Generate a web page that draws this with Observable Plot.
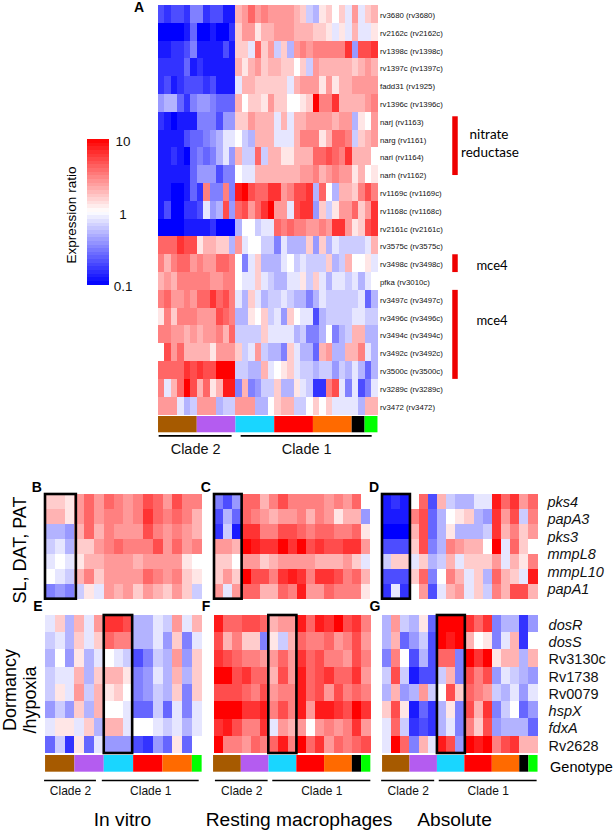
<!DOCTYPE html>
<html>
<head>
<meta charset="utf-8">
<script src="https://cdn.jsdelivr.net/npm/d3@7"></script>
<script src="https://cdn.jsdelivr.net/npm/@observablehq/plot@0.6"></script>
<style>
html,body{margin:0;padding:0;background:#fff}
#page{position:relative;width:616px;height:834px;overflow:hidden;font-family:"Liberation Sans",sans-serif;color:#000}
#page svg{position:absolute;max-width:none}
.t{position:absolute;white-space:nowrap;line-height:1}
</style>
</head>
<body>
<div id="page"></div>
<script>
// Cell values: log10(expression ratio) in tenths (-10 = 0.1, 0 = 1, +10 = 10)
const genesA = ["rv3680 (rv3680)","rv2162c (rv2162c)","rv1398c (rv1398c)","rv1397c (rv1397c)","fadd31 (rv1925)","rv1396c (rv1396c)","narj (rv1163)","narg (rv1161)","nari (rv1164)","narh (rv1162)","rv1169c (rv1169c)","rv1168c (rv1168c)","rv2161c (rv2161c)","rv3575c (rv3575c)","rv3498c (rv3498c)","pfka (rv3010c)","rv3497c (rv3497c)","rv3496c (rv3496c)","rv3494c (rv3494c)","rv3492c (rv3492c)","rv3500c (rv3500c)","rv3289c (rv3289c)","rv3472 (rv3472)"];
const panelA = [
[-7,-8,-7,-7,-8,-5,-5,-8,-7,-7,-9,-9, 3,4,6,4,5,4,4,4,4,3,2,-2,-3,1,2,0,2,-1,4,-1,2,3],
[-10,-10,-10,-10,-9,-6,-10,-10,-9,-10,-10,-8, 2,4,4,1,3,3,4,4,4,3,3,3,2,2,1,-1,1,-1,3,-1,-1,1],
[-9,-9,-8,-8,-7,-5,-9,-9,-9,-9,-7,-9, 2,2,-1,6,2,4,-2,2,-3,4,5,4,5,5,5,5,5,8,-4,7,7,8],
[-8,-8,-8,-8,-6,-9,-8,-9,-9,-9,-9,-9, 3,1,3,4,2,3,3,2,2,0,2,-2,4,3,3,3,3,3,2,3,4,3],
[-8,-7,-9,-8,-7,-7,-7,-8,-7,-9,-9,-9, -1,3,3,2,2,2,2,2,-1,3,4,4,4,1,4,1,3,3,4,4,4,4],
[-4,-3,-3,-6,-8,-5,-4,-4,-5,-6,-6,-6, 3,0,2,2,1,4,2,2,0,0,1,2,10,5,5,8,3,3,3,3,4,5],
[-8,-9,-10,-9,-9,-9,-5,-5,-5,-7,-4,-4, 2,2,4,3,3,3,-1,3,-1,3,3,4,4,4,4,3,4,4,-3,1,0,4],
[-9,-9,-9,-9,-7,-6,-6,-5,-4,-3,-1,-1, 0,-2,-3,3,3,3,-1,-1,-1,3,5,5,5,1,3,6,6,5,-2,2,3,4],
[-9,-9,-8,-9,-10,-6,-5,-6,-5,-3,-1,-4, 3,-2,-2,6,-2,3,3,1,1,3,3,3,6,6,7,6,5,8,3,3,3,0],
[-9,-9,-9,-9,-9,-6,-4,-4,-4,-7,-5,-5, 0,-1,-1,3,3,3,3,3,3,3,4,4,5,3,4,5,4,4,1,3,0,1],
[-9,-9,-10,-10,-9,-6,-8,5,-5,-5,5,-5, 9,10,7,6,6,8,8,4,5,7,7,8,-3,6,0,-3,3,3,2,5,7,5],
[-9,-7,-10,-10,-8,-8,-7,-1,-4,-3,7,-4, 6,7,4,6,8,10,4,4,-1,7,8,8,-4,2,-2,1,4,4,6,2,4,8],
[-10,-10,-10,-10,-9,-9,-9,-9,-8,-10,-10,-10, -3,0,0,-2,-1,-1,6,5,6,5,5,4,4,5,4,8,8,4,1,2,7,8],
[6,6,6,8,7,7,1,3,3,2,2,-3, 4,-1,0,0,-2,-2,-5,-1,-3,-3,-3,2,-4,2,-3,-1,-2,-2,-2,-2,-1,3],
[5,3,5,6,6,4,5,4,4,6,6,5, 0,-5,-1,2,-3,-3,-3,-1,0,-2,-1,-2,-2,-2,2,-3,-2,3,0,0,1,-1],
[3,4,3,5,5,5,5,5,4,4,5,5, 0,-1,-1,2,-1,-2,-3,-3,-1,-1,1,-2,2,-1,-3,-1,-1,-2,-1,-3,-1,0],
[5,6,4,4,5,4,6,6,8,6,7,5, -1,-3,2,-1,-3,-2,-2,-1,-2,-3,-3,-5,-3,-1,-2,-2,-2,-2,-2,-1,-6,-3],
[1,5,2,5,5,5,4,4,4,7,6,5, -3,-3,1,0,2,-2,-1,-4,2,0,-1,-1,-7,-3,-2,-2,-2,-2,-1,-1,-2,-2],
[5,5,4,4,3,4,3,4,4,5,3,6, -2,-2,-2,-2,2,-1,-1,-1,-1,-3,-2,-5,-5,-3,0,-5,-3,-2,3,3,-3,-3],
[0,7,4,6,3,3,3,3,1,4,4,4, 2,-2,-1,4,-2,-3,-3,-5,2,-1,-3,-3,-6,3,4,-3,-3,3,3,5,-1,-3],
[6,6,6,6,8,7,8,7,7,10,10,10, -2,-2,-3,-3,3,-1,0,1,2,-1,-2,-2,-3,-2,-2,-4,-2,-3,-1,-3,-6,-3],
[5,-1,3,6,10,7,3,6,1,3,9,9, -5,3,-5,-4,-2,-2,2,-3,-3,1,-1,-2,-8,-8,5,7,-1,-5,-1,-7,-5,-1],
[4,4,4,-1,-3,-2,4,4,4,-3,-2,-2, 4,4,4,-3,-3,0,2,3,3,-2,-2,0,2,0,2,-1,-1,-1,-1,-3,3,3]
];
const panelB = [
[2,2,1,4,6,4,6,5,4,5,7,6,4,7,5,5],
[3,3,1,4,6,4,5,5,4,5,8,6,5,6,5,3],
[-3,-3,-4,3,6,3,5,4,4,4,7,5,4,5,4,3],
[-2,-1,-3,2,2,4,5,6,5,5,5,7,4,6,4,5],
[-1,0,-1,1,3,3,4,4,4,3,4,4,4,4,1,0],
[0,-1,-2,3,5,2,4,4,4,4,6,5,4,5,2,1],
[-5,-4,-5,-2,1,-1,4,3,4,2,4,3,2,4,2,-2]
];
const panelC = [
[-5,-7,-4,6,6,3,5,7,5,5,5,5,4,5,4,6,0],
[-7,-3,-6,6,5,4,3,4,4,5,3,5,4,1,3,3,-4],
[-8,-2,-9,8,8,5,5,7,7,6,5,6,6,5,5,6,1],
[4,4,3,10,9,8,8,10,8,10,7,8,7,7,8,8,4],
[2,2,0,4,4,2,3,4,4,4,4,3,3,3,4,2,-1],
[2,4,2,10,7,7,5,8,9,8,5,8,8,7,5,6,3],
[4,-1,4,6,6,3,3,6,5,9,4,4,6,5,5,5,1]
];
const panelD = [
[-9,-8,-9,0,6,-7,3,-2,-3,-3,-1,-1,9,6,8,4,6],
[-9,-9,-9,5,7,-6,-3,0,1,2,-3,-4,8,4,7,-2,5],
[-10,-10,-10,3,7,-6,-3,1,-3,-3,-3,-2,8,3,5,2,4],
[-7,-7,-7,2,7,-5,-3,5,4,3,3,0,10,-1,6,2,0],
[-2,2,2,-1,2,-3,-2,3,-1,2,2,2,4,-1,3,1,5],
[-7,-7,-7,2,6,-5,0,5,3,-1,2,-3,6,3,2,-1,9],
[-8,-1,-8,0,4,-7,-1,3,4,-1,2,-2,5,3,7,7,3]
];
const panelE = [
[-1,2,-3,3,-1,4,8,8,7,-3,-3,-1,-2,4,-1,3],
[-2,-1,-3,2,-1,2,6,5,5,-3,-3,-1,-4,2,-5,-1],
[-3,0,-4,1,-3,-1,0,-1,-2,-7,-5,-2,-3,4,-4,2],
[-2,-1,-1,3,-3,2,3,3,1,-5,-4,-1,-3,3,-3,2],
[-2,1,-1,4,-2,3,1,2,0,-5,-4,-2,-3,2,-5,2],
[-4,-2,-4,2,-3,3,0,0,-1,-6,-6,-2,-6,-1,-5,-1],
[-1,1,1,-1,2,-3,3,3,-1,0,0,-1,-2,-1,-3,-1],
[-6,-2,-8,1,-6,-1,-4,-4,-4,-7,-8,-4,-6,1,-6,0]
];
const panelF = [
[9,6,6,7,7,6,3,4,4,9,6,9,8,10,7,8,5],
[7,3,5,2,2,-5,1,-2,3,6,5,5,6,4,5,7,4],
[8,7,6,5,5,4,4,6,4,8,6,7,5,5,4,7,5],
[10,10,7,8,6,6,3,7,4,9,6,7,8,6,6,8,4],
[7,7,7,6,5,7,4,5,5,9,6,7,4,7,5,6,5],
[10,10,10,8,8,9,5,7,5,9,4,9,9,8,7,10,8],
[8,9,7,5,5,8,-1,4,3,4,0,4,5,4,5,8,4],
[10,5,5,4,6,5,6,9,5,10,6,8,4,6,5,6,7]
];
const panelG = [
[-3,4,-2,-3,1,-6,10,10,10,8,6,8,-5,-3,-3,-8,-4],
[-3,3,-6,-4,-2,-7,10,9,10,3,0,1,-5,-1,3,-8,0],
[-5,5,0,-7,-3,-7,6,6,-5,10,8,10,1,3,3,-3,3],
[-2,7,-2,-9,-7,-7,-2,3,-5,7,5,7,-4,-1,-2,-3,-4],
[-3,3,-4,-3,4,-2,0,7,2,6,5,4,-2,-3,-1,-4,-1],
[2,7,1,-9,-6,-8,-3,1,-5,7,3,8,-5,-2,0,-6,-4],
[-1,6,-2,-8,-7,-8,-3,-1,-5,5,2,7,-4,-3,-3,-3,-6],
[-1,10,6,-5,3,-1,9,7,-4,10,9,10,5,7,8,3,3]
];
const genesSL = ["pks4","papA3","pks3","mmpL8","mmpL10","papA1"];
const genesDormancy = ["dosR","dosS","Rv3130c","Rv1738","Rv0079","hspX","fdxA","Rv2628"];
const italicGenes = ["pks4","papA3","pks3","mmpL8","mmpL10","papA1","dosR","dosS","hspX","fdxA"];
const genotypeColors = ["#a65a00","#b45cf0","#19d6ff","#ff0000","#ff6a00","#000000","#00ff00"];
const genotypeCountsA = [6,6,6,6,6,2,2];
const genotypeCounts16 = [3,3,3,3,3,0,1];
const genotypeCounts17 = [3,3,3,3,3,1,1];
const cladeNames = ["Clade 2","Clade 1"];
const colorTicks = [0.1,1,10];
const ramp = d3.range(-10,10,0.5);
const annotA = [{from:6.25,to:9.55},{from:14,to:15},{from:16,to:21}];

const page = document.getElementById("page");
const colorOpts = {type:"linear",domain:[-10,0,10],range:["#0000ff","#ffffff","#ff0000"],interpolate:"rgb",clamp:true};
const sans = "Liberation Sans, sans-serif";

function place(svg,left,top){svg.style.left=left+"px";svg.style.top=top+"px";page.appendChild(svg);return svg;}
function flat(m){return m.flatMap((r,i)=>r.map((v,j)=>({row:i,col:j,v})));}

function heat({data,left,top,w,h,box,labels,dx,labelRows,labelSize,extra=[]}){
  const rows=data.length,cols=data[0].length;
  const marks=[Plot.rect(flat(data),{x1:"col",x2:d=>d.col+1,y1:"row",y2:d=>d.row+1,fill:"v",shapeRendering:"crispEdges"})];
  if(box) marks.push(Plot.rect([box],{x1:"from",x2:"to",y1:0,y2:rows,fill:"none",stroke:"#000",strokeWidth:2.6}));
  if(labels){
    const step=rows/labels.length;
    const pts=labels.map((name,i)=>({name,y:(i+.5)*step}));
    const t=(arr,style)=>Plot.text(arr,{x:cols,y:"y",text:"name",dx,dy:labelRows?1:-1,textAnchor:"start",fontSize:labelSize,fontFamily:sans,fontStyle:style,fill:"#111"});
    marks.push(t(pts.filter(p=>!italicGenes.includes(p.name)),"normal"));
    marks.push(t(pts.filter(p=>italicGenes.includes(p.name)),"italic"));
  }
  marks.push(...extra.map(f=>f(cols)));
  const svg=Plot.plot({width:w,height:h,margin:0,style:{background:"transparent",overflow:"visible"},
    x:{domain:[0,cols],range:[0,w],axis:null},y:{domain:[0,rows],range:[0,h],axis:null},color:colorOpts,marks});
  const g=svg.querySelector('g[aria-label="rect"]');
  if(g) g.style.filter="blur(0.6px)";
  return place(svg,left,top);
}

function strip({counts,left,top,w,h,spans,ruleDy,textDy,fontSize}){
  const cells=[];let c=0;
  counts.forEach((n,i)=>{if(n>0){cells.push({x1:c,x2:c+n,fill:genotypeColors[i]});c+=n;}});
  const spanRows=spans.map((s,i)=>({x1:s[0],x2:s[1],name:cladeNames[i],mid:(s[0]+s[1])/2}));
  const svg=Plot.plot({width:w,height:h,margin:0,style:{background:"transparent",overflow:"visible"},
    x:{domain:[0,c],range:[0,w],axis:null},y:{domain:[0,1],range:[h,0],axis:null},
    marks:[
      Plot.rect(cells,{x1:"x1",x2:"x2",y1:0,y2:1,fill:"fill"}),
      Plot.ruleY(spanRows,{x1:"x1",x2:"x2",y:0,dy:ruleDy,stroke:"#000",strokeWidth:1.7}),
      Plot.text(spanRows,{x:"mid",y:0,dy:textDy,text:"name",fontSize,fontFamily:sans,fill:"#111"})
    ]});
  const g=svg.querySelector('g[aria-label="rect"]');
  if(g) g.style.filter="blur(0.4px)";
  return place(svg,left,top);
}

function label(text,cx,cy,size,opts={}){
  const s=document.createElement("span");
  s.className="t";s.textContent=text;
  s.style.left=cx+"px";s.style.top=cy+"px";s.style.fontSize=size+"px";
  s.style.transform=`translate(-50%,-50%)${opts.rotate?` rotate(${opts.rotate}deg)`:""}`;
  if(opts.bold)s.style.fontWeight="bold";
  if(opts.family)s.style.fontFamily=opts.family;
  page.appendChild(s);
}

// Panel A
heat({data:panelA,left:157.5,top:4.5,w:219.5,h:409.5,labels:genesA,dx:2,labelRows:true,labelSize:7.8,
  extra:[cols=>Plot.ruleX(annotA,{x:cols,y1:"from",y2:"to",dx:77,stroke:"#ee0000",strokeWidth:5.5})]});
strip({counts:genotypeCountsA,left:157.5,top:415.7,w:219.5,h:16.3,spans:[[0.1,11.4],[12.8,33.1]],ruleDy:3,textDy:17,fontSize:14.5});

// Panels B, C, D
const rowB={top:494.3,h:104.7}, rowE={top:615,h:138};
heat({data:panelB,left:45,top:rowB.top,w:156.7,h:rowB.h,box:{from:0,to:3.15}});
heat({data:panelC,left:213.5,top:rowB.top,w:156.5,h:rowB.h,box:{from:0,to:3}});
heat({data:panelD,left:381.7,top:rowB.top,w:155.6,h:rowB.h,box:{from:0,to:3.05},labels:genesSL,dx:9.4,labelSize:14.5});
heat({data:panelE,left:45,top:rowE.top,w:156.7,h:rowE.h,box:{from:6,to:8.9}});
heat({data:panelF,left:213.5,top:rowE.top,w:156.5,h:rowE.h,box:{from:5.9,to:8.95}});
heat({data:panelG,left:381.7,top:rowE.top,w:155.6,h:rowE.h,box:{from:6,to:9.05},labels:genesDormancy,dx:10.5,labelRows:true,labelSize:14.5});

// Genotype strips
strip({counts:genotypeCounts16,left:45,top:755,w:156.7,h:16.7,spans:[[-0.1,5.2],[5.8,15.7]],ruleDy:8.3,textDy:18.5,fontSize:12});
strip({counts:genotypeCounts17,left:212.6,top:755,w:157.4,h:16.7,spans:[[0.2,5.9],[6.4,17]],ruleDy:8.3,textDy:18.5,fontSize:12});
strip({counts:genotypeCounts17,left:381.7,top:755,w:155.6,h:16.7,spans:[[-0.1,5.7],[6.2,16.9]],ruleDy:8.3,textDy:18.5,fontSize:12});

// Colour bar
(function(){
  const w=21.6,h=145.6;
  const svg=Plot.plot({width:w,height:h,margin:0,style:{background:"transparent",overflow:"visible"},
    x:{domain:[0,1],range:[0,w],axis:null},y:{type:"log",domain:[0.1,10],range:[h,0],axis:null},color:colorOpts,
    marks:[
      Plot.rect(ramp,{x1:0,x2:1,y1:c=>Math.pow(10,c/10),y2:c=>Math.pow(10,(c+0.5)/10),fill:c=>c+0.25,shapeRendering:"crispEdges"}),
      Plot.text(colorTicks,{x:1,y:d=>d,text:d=>String(d),dx:14,dy:2,fontSize:13.5,fontFamily:sans,fill:"#111"})
    ]});
  place(svg,86.7,138.7);
})();
label("Expression ratio",71.7,215,13.5,{rotate:-90});

// Annotation text
const calibri="Lato, sans-serif";
label("nitrate",489,135,13.5,{family:calibri});
label("reductase",490,152.7,13.5,{family:calibri});
label("mce4",492,265,13,{family:calibri});
label("mce4",492,320,13,{family:calibri});
label("Genotype",581.5,766.7,14.5);

// Panel letters
[["A",139,7],["B",36.7,487],["C",205.7,487],["D",374,487],["E",38,605.7],["F",206,605.7],["G",375,605.7]]
  .forEach(([t,x,y])=>label(t,x,y,14,{bold:true}));

// Side and bottom titles
label("SL, DAT, PAT",20,550,18,{rotate:-90});
label("Dormancy",10,690,18,{rotate:-90});
label("/hypoxia",29.5,700,18,{rotate:-90});
label("In vitro",122.5,820,19.2);
label("Resting macrophages",299,820,19.2);
label("Absolute",454.5,820,19.2);
</script>
</body>
</html>
